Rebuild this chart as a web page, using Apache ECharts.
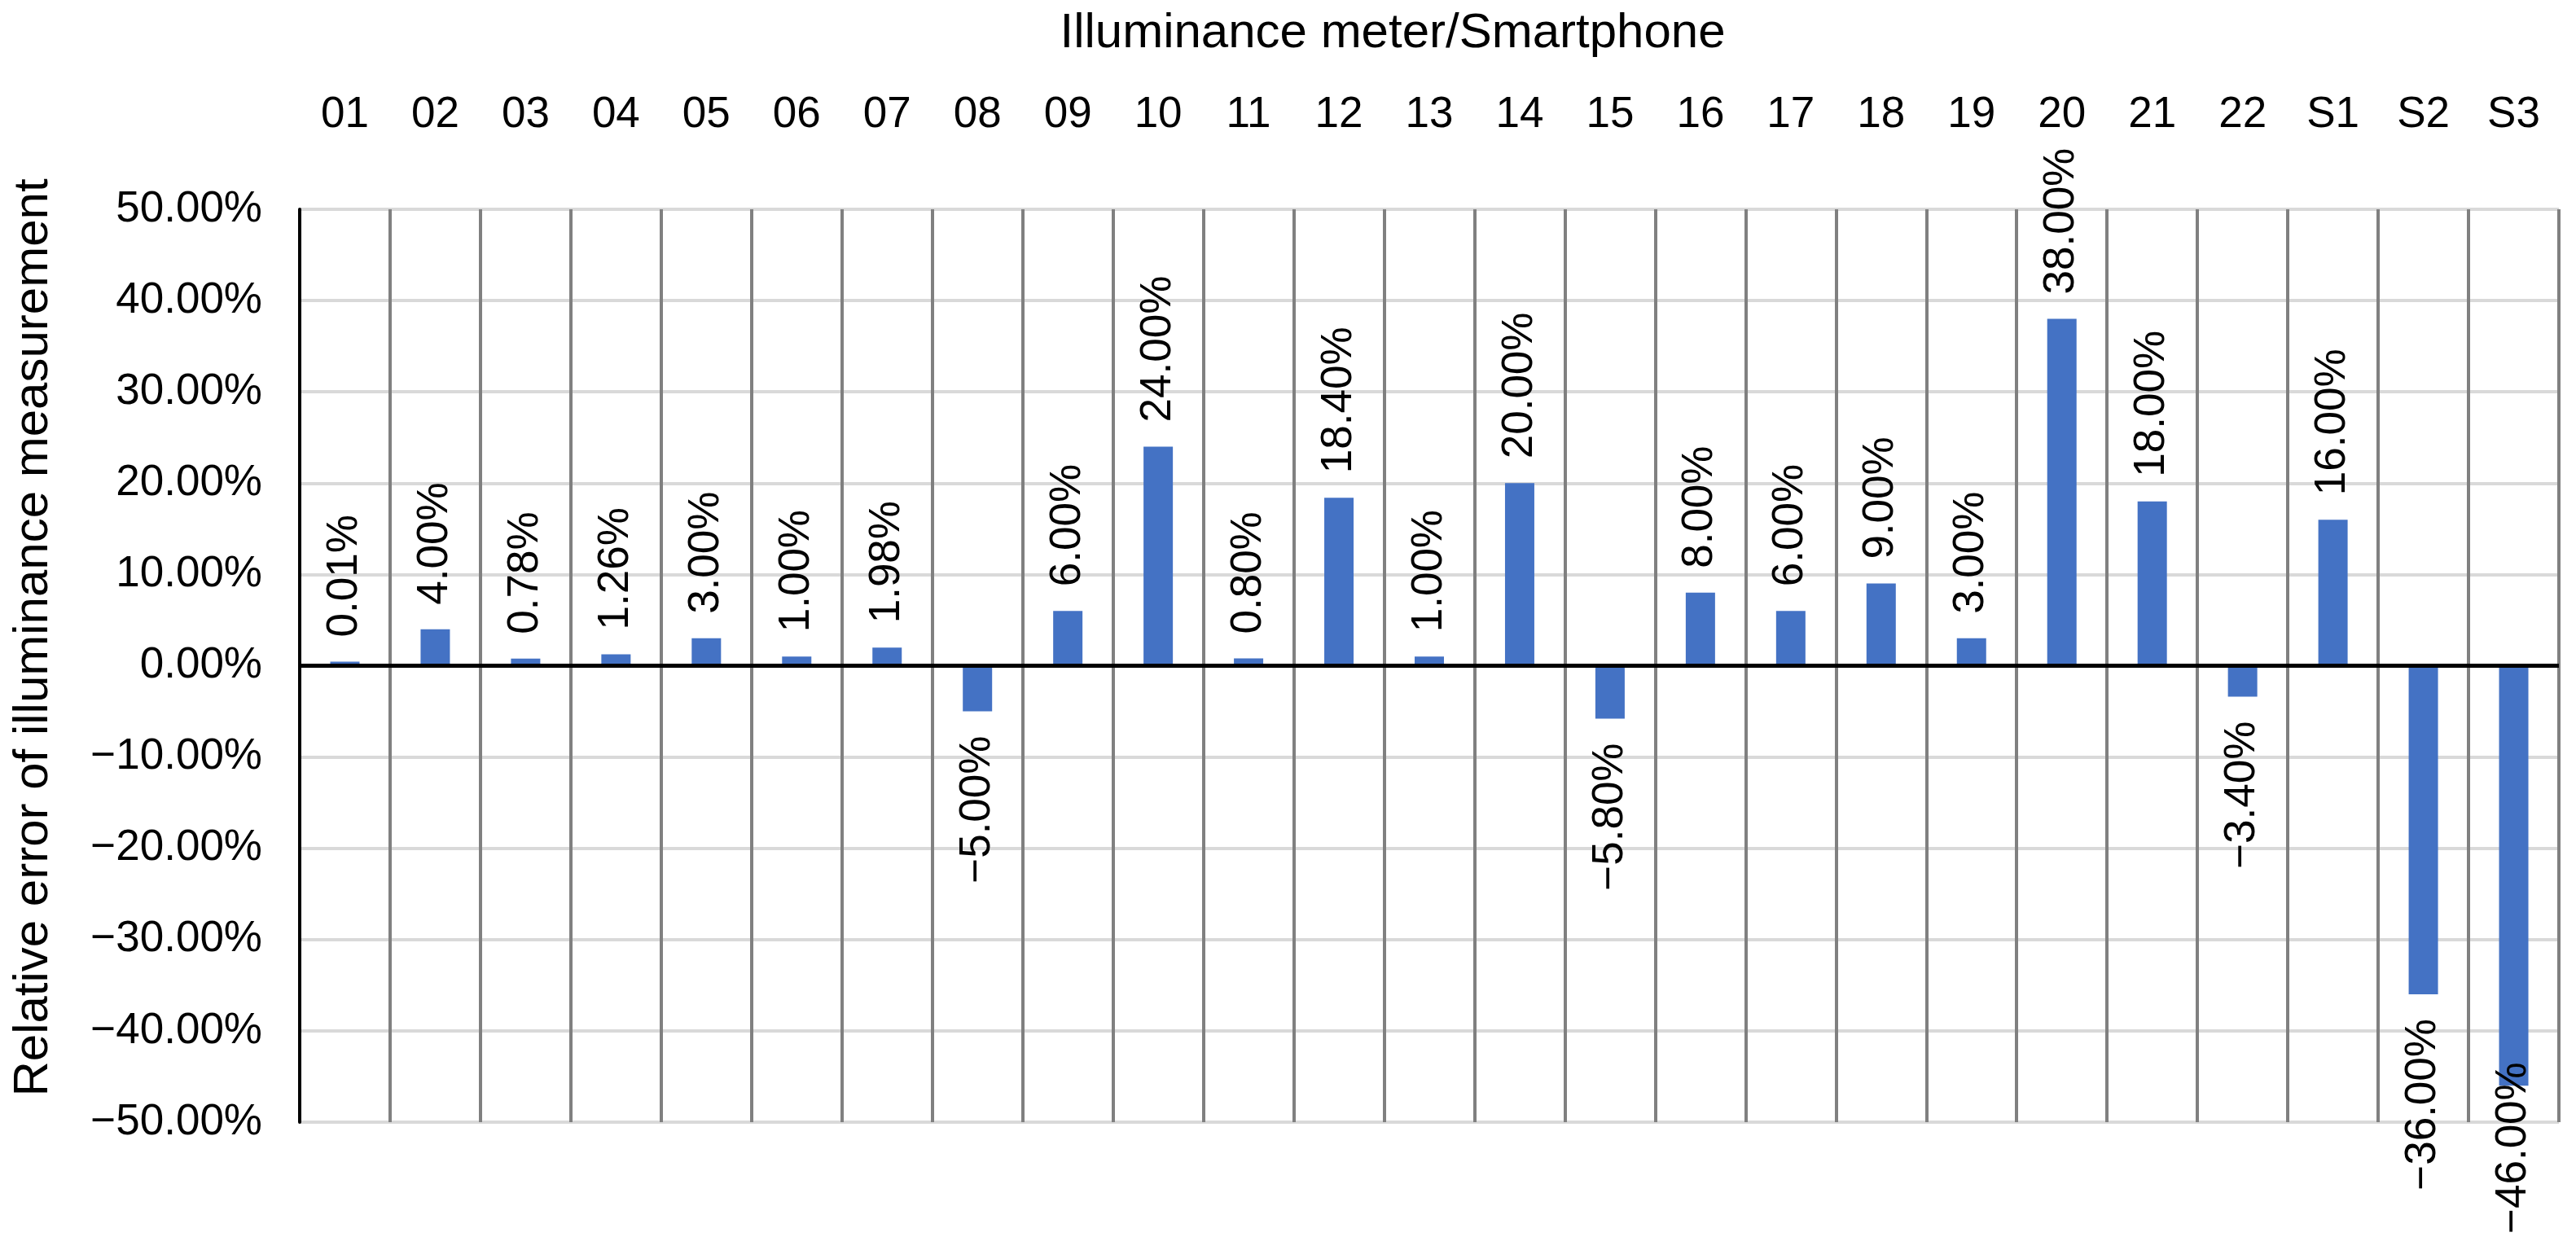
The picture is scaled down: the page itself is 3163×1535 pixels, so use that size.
<!DOCTYPE html>
<html>
<head>
<meta charset="utf-8">
<script src="https://cdn.jsdelivr.net/npm/echarts@6/dist/echarts.min.js"></script>
<style>
html,body{margin:0;padding:0;background:#fff;}
#chart{width:3163px;height:1535px;}
</style>
</head>
<body>
<div id="chart"></div>
<script>
const categories = ['01','02','03','04','05','06','07','08','09','10','11','12','13','14','15','16','17','18','19','20','21','22','S1','S2','S3'];
const relativeError = [0.01, 4.00, 0.78, 1.26, 3.00, 1.00, 1.98, -5.00, 6.00, 24.00, 0.80, 18.40, 1.00, 20.00, -5.80, 8.00, 6.00, 9.00, 3.00, 38.00, 18.00, -3.40, 16.00, -36.00, -46.00];
const yTicks = { min: -50, max: 50, interval: 10 };
const xTitle = 'Illuminance meter/Smartphone';
const yTitle = 'Relative error of illuminance measurement';

const FONT = "'Liberation Sans', Arial, sans-serif";
const LABEL_SIZE = 53;
const LABEL_GAP = 30;
const CHART_H = 1535;
const LABEL_BOTTOM_LIMIT = CHART_H - 20;

function pct(v) {
  return (v < 0 ? '\u2212' : '') + Math.abs(v).toFixed(2) + '%';
}

const measureCtx = document.createElement('canvas').getContext('2d');
measureCtx.font = LABEL_SIZE + "px 'Liberation Sans', Arial, sans-serif";

function buildData(chart) {
  return relativeError.map(function (v, i) {
    const neg = v < 0;
    let dist = LABEL_GAP;
    if (neg && chart) {
      const endY = chart.convertToPixel({ yAxisIndex: 0 }, v);
      const w = measureCtx.measureText(pct(v)).width;
      if (endY + LABEL_GAP + w > LABEL_BOTTOM_LIMIT) {
        dist = LABEL_BOTTOM_LIMIT - w - endY;
      }
    }
    return {
      value: v,
      label: {
        position: neg ? 'bottom' : 'top',
        align: neg ? 'right' : 'left',
        verticalAlign: 'middle',
        distance: dist
      }
    };
  });
}

const chart = echarts.init(document.getElementById('chart'), null, { renderer: 'canvas' });
chart.setOption({
  animation: false,
  backgroundColor: '#ffffff',
  textStyle: { fontFamily: FONT },
  grid: { left: 368, right: 21, top: 257, bottom: 157, containLabel: false },
  xAxis: {
    type: 'category',
    position: 'top',
    data: categories,
    axisLine: { show: false },
    axisTick: { show: false },
    axisLabel: { interval: 0, fontSize: 53, color: '#000', fontFamily: FONT, margin: 89 },
    splitLine: { show: true, interval: 0, lineStyle: { color: '#808080', width: 4 } }
  },
  yAxis: {
    type: 'value',
    min: yTicks.min,
    max: yTicks.max,
    interval: yTicks.interval,
    axisLine: { show: true, onZero: false, lineStyle: { color: '#000', width: 4 } },
    axisTick: { show: false },
    axisLabel: { fontSize: 53, color: '#000', fontFamily: FONT, margin: 46, formatter: pct },
    splitLine: { show: true, lineStyle: { color: '#d9d9d9', width: 4 } }
  },
  graphic: [
    {
      type: 'text', x: 1710, y: 41,
      style: { text: xTitle, fontSize: 60, fontFamily: FONT, fill: '#000', textAlign: 'center', textVerticalAlign: 'middle' }
    },
    {
      type: 'text', x: 41, y: 783, rotation: Math.PI / 2,
      style: { text: yTitle, fontSize: 60, fontFamily: FONT, fill: '#000', textAlign: 'center', textVerticalAlign: 'middle' }
    }
  ],
  series: [{
    type: 'bar',
    data: buildData(null),
    barWidth: 36,
    barMinHeight: 5,
    itemStyle: { color: '#4472C4' },
    label: {
      show: true,
      rotate: 90,
      distance: LABEL_GAP,
      fontSize: LABEL_SIZE,
      color: '#000',
      fontFamily: FONT,
      formatter: function (p) { return pct(p.value); }
    },
    markLine: {
      silent: true,
      symbol: 'none',
      label: { show: false },
      lineStyle: { color: '#000', width: 5, type: 'solid' },
      data: [{ yAxis: 0 }]
    }
  }]
});
chart.setOption({ series: [{ data: buildData(chart) }] });
</script>
</body>
</html>
